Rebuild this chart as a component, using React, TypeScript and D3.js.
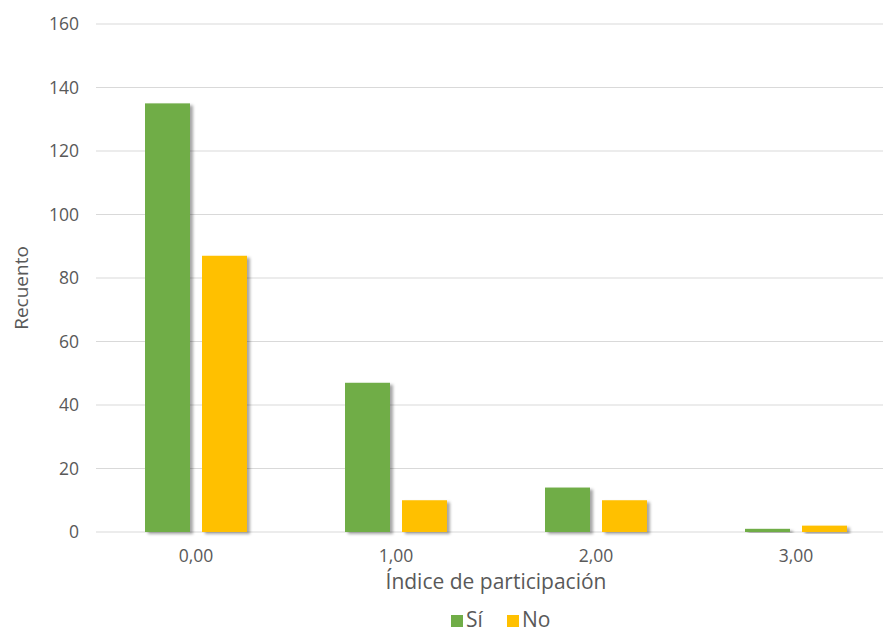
import React from "react";
import * as d3 from "d3";

const categories = ["0,00", "1,00", "2,00", "3,00"];
const seriesNames = ["Sí", "No"];
const siValues = [135, 47, 14, 1];
const noValues = [87, 10, 10, 2];
const yTicks = [0, 20, 40, 60, 80, 100, 120, 140, 160];
const colors = ["#70AD47", "#FFC000"];

const W = 883;
const H = 633;
const FONT = "'Open Sans', Lato, sans-serif";

export default function App() {
  const left = 96;
  const top = 24;
  const bottom = 532;
  const x = d3.scaleBand<string>().domain(categories).range([left, left + 800]);
  const y = d3.scaleLinear().domain([0, 160]).range([bottom, top]);
  const barW = 45;
  const gap = 12;
  const series = [siValues, noValues];

  return (
    <svg width={W} height={H} style={{ position: "absolute", left: 0, top: 0, background: "#fff" }}>
      <defs>
        <filter id="barShadow" x="-20%" y="-20%" width="150%" height="150%">
          <feDropShadow dx="3" dy="2" stdDeviation="1.5" floodColor="#000" floodOpacity="0.35" />
        </filter>
      </defs>
      {yTicks.map((t) => (
        <g key={t}>
          <line x1={left} x2={W} y1={y(t)} y2={y(t)} stroke="#d9d9d9" strokeWidth={1} />
          <text x={79} y={y(t)} dy="0.36em" textAnchor="end" fontSize={17.5} fill="#595959" fontFamily={FONT}>
            {t}
          </text>
        </g>
      ))}
      {categories.map((c, i) => {
        const cx = (x(c) as number) + x.bandwidth() / 2;
        return (
          <g key={c}>
            {series.map((vals, s) => {
              const bx = s === 0 ? cx - gap / 2 - barW : cx + gap / 2;
              return (
                <rect
                  key={s}
                  x={bx}
                  y={y(vals[i])}
                  width={barW}
                  height={bottom - y(vals[i])}
                  fill={colors[s]}
                  filter="url(#barShadow)"
                />
              );
            })}
            <text x={cx} y={562} textAnchor="middle" fontSize={17.5} fill="#595959" fontFamily={FONT}>
              {c}
            </text>
          </g>
        );
      })}
      <text x={496} y={589} textAnchor="middle" fontSize={21} fill="#595959" fontFamily={FONT}>
        Índice de participación
      </text>
      <text
        transform={`translate(28, 288) rotate(-90)`}
        textAnchor="middle"
        fontSize={19}
        fill="#595959"
        fontFamily={FONT}
      >
        Recuento
      </text>
      {seriesNames.map((n, s) => {
        const lx = s === 0 ? 451 : 507;
        return (
          <g key={n}>
            <rect x={lx} y={615} width={12} height={12} fill={colors[s]} />
            <text x={lx + 15} y={627} fontSize={21} fill="#595959" fontFamily={FONT}>
              {n}
            </text>
          </g>
        );
      })}
    </svg>
  );
}
